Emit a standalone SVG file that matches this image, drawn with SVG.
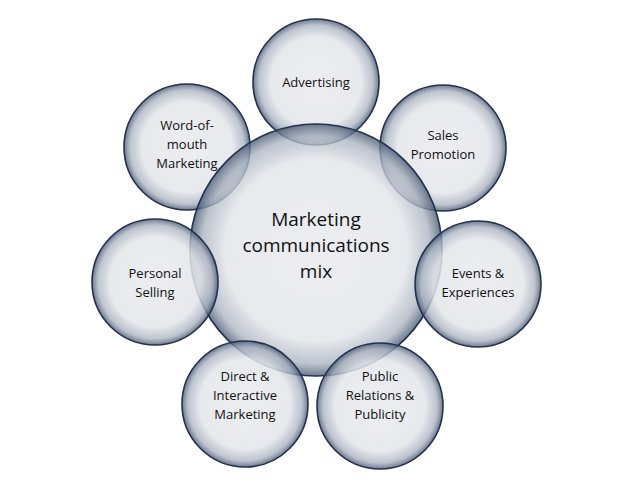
<svg xmlns="http://www.w3.org/2000/svg" width="638" height="479" viewBox="0 0 638 479">
<defs>
<radialGradient id="g" cx="0.5" cy="0.5" r="0.5">
<stop offset="0" stop-color="#e8eaee" stop-opacity="0.85"/>
<stop offset="0.72" stop-color="#e3e6ea" stop-opacity="0.85"/>
<stop offset="0.9" stop-color="#a9b2c0" stop-opacity="0.75"/>
<stop offset="1" stop-color="#4a5a74" stop-opacity="0.8"/>
</radialGradient>
</defs>
<style>
circle{fill:url(#g);stroke:#22324f;stroke-width:1.6}
text{font-family:"Open Sans","Liberation Sans",sans-serif;font-size:13px;fill:#111;text-anchor:middle}
.big{font-size:19px}
</style>
<rect width="638" height="479" fill="#fff"/>
<g id="advertising"><circle cx="316" cy="82" r="63"/><text x="316" y="87">Advertising</text></g>
<g id="sales"><circle cx="443" cy="148" r="63"/><text x="443" y="140">Sales</text><text x="443" y="159">Promotion</text></g>
<g id="wom"><circle cx="187" cy="147" r="63"/><text x="187" y="130">Word-of-</text><text x="187" y="149">mouth</text><text x="187" y="168">Marketing</text></g>
<g id="central"><circle cx="316" cy="250" r="126"/><text class="big" x="316" y="226">Marketing</text><text class="big" x="316" y="252">communications</text><text class="big" x="316" y="278">mix</text></g>
<g id="events"><circle cx="478" cy="284" r="63"/><text x="478" y="278">Events &amp;</text><text x="478" y="297">Experiences</text></g>
<g id="personal"><circle cx="155" cy="282" r="63"/><text x="155" y="278">Personal</text><text x="155" y="297">Selling</text></g>
<g id="pr"><circle cx="380" cy="406" r="63"/><text x="380" y="381">Public</text><text x="380" y="400">Relations &amp;</text><text x="380" y="419">Publicity</text></g>
<g id="direct"><circle cx="245" cy="404" r="63"/><text x="245" y="381">Direct &amp;</text><text x="245" y="400">Interactive</text><text x="245" y="419">Marketing</text></g>
<g id="connectors"></g>
</svg>
